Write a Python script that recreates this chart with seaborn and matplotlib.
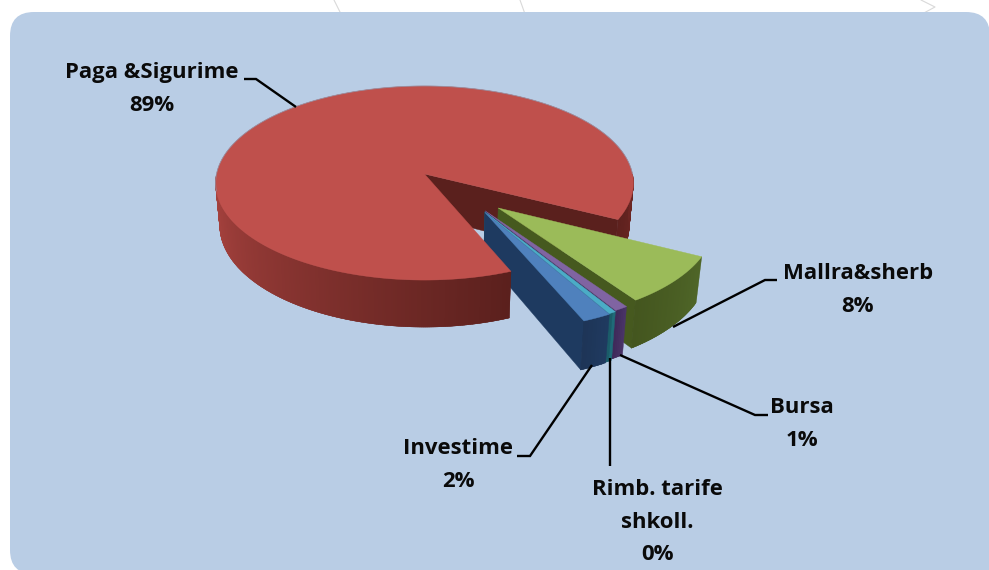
import numpy as np
import matplotlib
matplotlib.use("Agg")
import matplotlib.pyplot as plt
from matplotlib.patches import FancyBboxPatch, Rectangle
import seaborn as sns

# ---- data ----
categories = ["Paga &Sigurime", "Mallra&sherb", "Bursa", "Rimb. tarife\nshkoll.", "Investime"]
shares = [88.7, 8.0, 0.9, 0.49, 1.91]

# ---- styles ----
TOP_COLORS = ["#BF504C", "#9BBB59", "#8064A2", "#4BACC6", "#4F81BD"]
WALL_LIGHT = ["#AD4541", "#4F6628", "#4A3468", "#1F6B78", "#1F3A60"]
WALL_DARK = ["#5B201D", "#44561F", "#3F2A5A", "#1B5C69", "#1E3557"]
RADIAL_WALL = ["#5A201D", "#46591F", "#3F2A5A", "#1B5C69", "#1E3A60"]
EXPLODE = [(0, 0), (.343, -.342), (.282, -.370), (.280, -.380), (.280, -.385)]
RADIUS = [1.0, 1.0, 1.03, 1.03, 1.03]
START_ANGLE = -27.0
LEADERS = [
    [(244, 79), (256, 79), (296, 107)],
    [(777, 280), (765, 280), (673, 327)],
    [(768, 415), (755, 415), (620, 355)],
    [(610, 466), (610, 358)],
    [(517, 456), (530, 456), (592, 365)],
]
LABEL_POS = [(152, 89), (858, 290), (802, 424), (657, 522), (458, 465)]

sns.set_theme(style="white")
plt.rcParams["font.family"] = ["Open Sans", "DejaVu Sans"]

fig = plt.figure(figsize=(9.89, 5.70), dpi=100, facecolor="white")
ax = fig.add_axes([0, 0, 1, 1])
ax.set_xlim(0, 989)
ax.set_ylim(570, 0)
ax.axis("off")

# page decorations behind the panel
for seg in ([(334, 0), (341, 14)], [(520, 0), (525, 14)], [(921, 0), (935, 7), (922, 14)]):
    ax.plot(*zip(*seg), color="#D9D9D9", lw=0.8, zorder=0)
ax.add_patch(FancyBboxPatch((34, 36), 932, 514, boxstyle="round,pad=24,rounding_size=24",
                            fc="#B9CDE5", ec="none", zorder=0.5))
ax.add_patch(Rectangle((940, 530), 60, 50, fc="#B9CDE5", ec="none", zorder=0.5))

CX, CY, R, A, K, D = 424.5, 174.0, 208.0, 96.2, 0.093, 42.0


def project(u, v, bottom=False):
    u, v = np.asarray(u, float), np.asarray(v, float)
    w = 1 + K * v
    sx, sy = R * u / w, A * v / w
    if bottom:
        return CX + 0.98 * sx, CY + D - 1.047 * sy
    return CX + sx, CY - sy


def rim(offset, a0, a1, n=2, r=1.0):
    t = np.radians(np.linspace(a0, a1, n))
    return offset[0] + r * np.cos(t), offset[1] + r * np.sin(t)


def face(xs, ys, color, z):
    ax.fill(xs, ys, facecolor=color, edgecolor=color, lw=0.3, zorder=z, joinstyle="round")


def outer_wall(offset, a0, a1, light, dark, z, r=1.0):
    n = max(2, int(abs(a1 - a0)) * 2)
    u, v = rim(offset, a0, a1, n + 1, r)
    tx, ty = project(u, v)
    bx, by = project(u, v, True)
    pal = sns.blend_palette([light, dark], n)
    # each strip reaches to the far end of the next one, so no seams show
    for i in range(n):
        j = min(i + 2, n)
        face([tx[i], tx[j], bx[j], bx[i]], [ty[i], ty[j], by[j], by[i]], pal[i], z + i * 1e-4)


def radial_wall(offset, a, color, z, r=1.0):
    u, v = rim(offset, a, a, 2, r)
    tx, ty = project([offset[0], u[0]], [offset[1], v[0]])
    bx, by = project([offset[0], u[0]], [offset[1], v[0]], True)
    face([tx[0], tx[1], bx[1], bx[0]], [ty[0], ty[1], by[1], by[0]], color, z)


def top_face(offset, a0, a1, color, z, r=1.0):
    n = max(2, int(abs(a1 - a0)))
    u, v = rim(offset, a0, a1, n + 1, r)
    x, y = project(np.r_[offset[0], u], np.r_[offset[1], v])
    face(x, y, color, z)


spans = np.array(shares) / sum(shares) * 360.0
red_a0 = START_ANGLE
red_a1 = START_ANGLE + spans[0]

# rear part of the large slice
radial_wall(EXPLODE[0], red_a0, RADIAL_WALL[0], 1)
outer_wall(EXPLODE[0], red_a0, 0, "#5E211E", "#6E2724", 1.1)

# exploded slices
ang = START_ANGLE
for i in range(1, len(shares)):
    a0, a1 = ang, ang - spans[i]
    z = 2 + i * 0.1
    radial_wall(EXPLODE[i], a1, RADIAL_WALL[i], z, RADIUS[i])
    outer_wall(EXPLODE[i], a0, a1, WALL_LIGHT[i], WALL_DARK[i], z + 0.01, RADIUS[i])
    top_face(EXPLODE[i], a0, a1, TOP_COLORS[i], z + 0.05, RADIUS[i])
    ang = a1

# front part of the large slice
outer_wall(EXPLODE[0], 180, red_a1, WALL_LIGHT[0], WALL_DARK[0], 3)
top_face(EXPLODE[0], red_a0, red_a1, TOP_COLORS[0], 3.1)
ru, rv = rim(EXPLODE[0], 0, 190, 100)
ax.plot(*project(ru, rv), color="#8C9DB5", lw=0.6, alpha=0.7, zorder=3.2)

# labels and leaders
for name, share, pos, seg in zip(categories, shares, LABEL_POS, LEADERS):
    ax.plot(*zip(*seg), color="black", lw=1.7, zorder=4, solid_joinstyle="miter", solid_capstyle="butt")
    ax.text(pos[0], pos[1], f"{name}\n{round(share)}%", ha="center", va="center", fontsize=15.9,
            fontweight="bold", color="#0A0A0A", linespacing=1.72, zorder=5)

fig.savefig("out.png", dpi=100, facecolor="white")
